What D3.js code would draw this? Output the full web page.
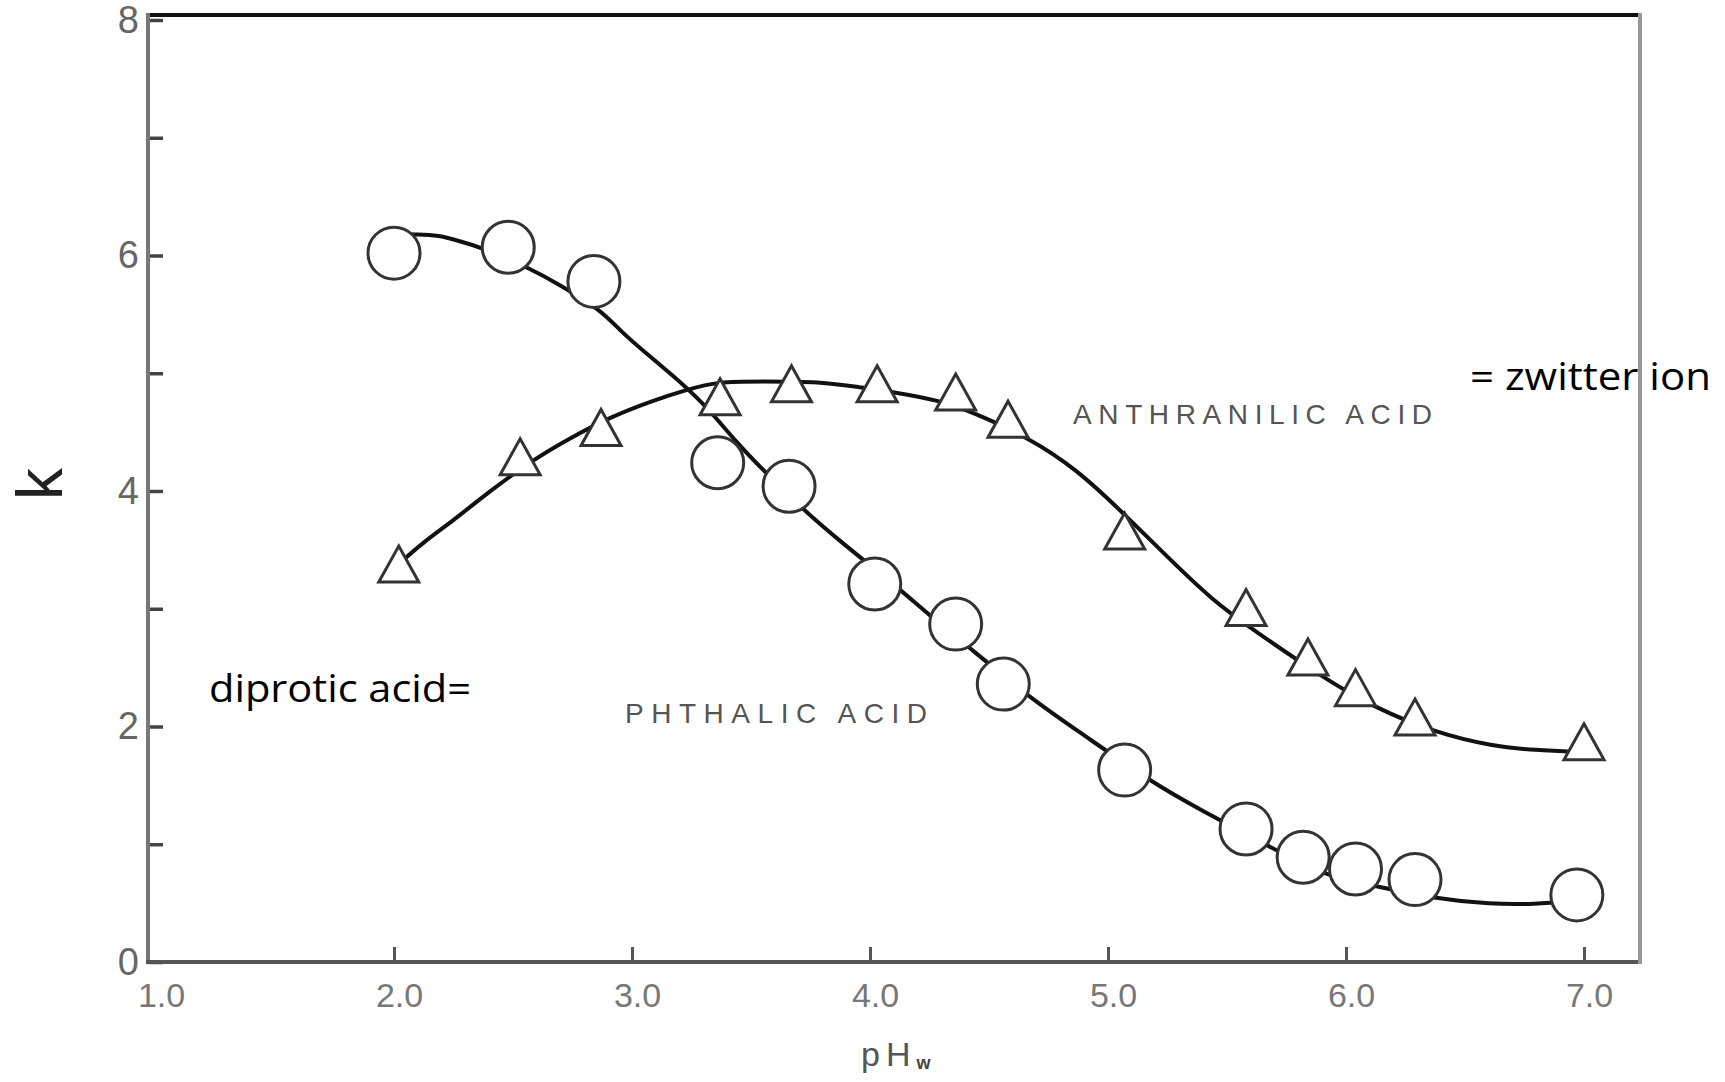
<!DOCTYPE html>
<html><head><meta charset="utf-8">
<script src="https://cdn.jsdelivr.net/npm/d3@7"></script>
<style>html,body{margin:0;padding:0;background:#fff;} svg{display:block;}</style>
</head><body>
<script>
// ---- data ----
const xTickValues = [1, 2, 3, 4, 5, 6, 7];
const xTickLabels = ["1.0", "2.0", "3.0", "4.0", "5.0", "6.0", "7.0"];
const yTickValues = [0, 1, 2, 3, 4, 5, 6, 7, 8];
const yTickLabels = ["0", "", "2", "", "4", "", "6", "", "8"];

// phthalic acid (circles)
const phthalicPH = [2.00, 2.48, 2.84, 3.36, 3.66, 4.02, 4.36, 4.56, 5.07, 5.58, 5.82, 6.04, 6.29, 6.97];
const phthalicK  = [6.02, 6.07, 5.78, 4.24, 4.04, 3.21, 2.87, 2.36, 1.63, 1.13, 0.89, 0.79, 0.70, 0.57];
// anthranilic acid (triangles)
const anthranilicPH = [2.02, 2.53, 2.87, 3.37, 3.67, 4.03, 4.36, 4.58, 5.07, 5.58, 5.84, 6.04, 6.29, 7.00];
const anthranilicK  = [3.38, 4.29, 4.54, 4.80, 4.91, 4.91, 4.84, 4.61, 3.66, 3.01, 2.59, 2.33, 2.08, 1.87];

// hand-drawn fitted curves
const phthalicFitPH = [2.00, 2.10, 2.19, 2.26, 2.37, 2.58, 2.68, 2.87, 2.96, 3.06, 3.16, 3.30, 3.44, 3.55, 3.72, 3.87, 4.13, 4.24, 4.43, 4.68, 4.89, 5.18, 5.39, 5.68, 5.92, 6.14, 6.37, 6.61, 6.79, 6.97];
const phthalicFitK  = [6.18, 6.18, 6.17, 6.13, 6.07, 5.88, 5.77, 5.54, 5.34, 5.17, 5.00, 4.75, 4.41, 4.18, 3.84, 3.58, 3.16, 2.96, 2.65, 2.23, 1.94, 1.53, 1.29, 0.98, 0.72, 0.64, 0.54, 0.49, 0.49, 0.52];
const anthranilicFitPH = [2.02, 2.12, 2.25, 2.39, 2.58, 2.74, 2.91, 3.09, 3.23, 3.36, 3.55, 3.79, 3.96, 4.10, 4.29, 4.43, 4.67, 4.87, 5.05, 5.25, 5.44, 5.61, 5.90, 6.11, 6.37, 6.62, 6.79, 7.00];
const anthranilicFitK  = [3.38, 3.56, 3.75, 3.98, 4.26, 4.45, 4.63, 4.77, 4.86, 4.93, 4.93, 4.93, 4.88, 4.84, 4.77, 4.67, 4.45, 4.18, 3.84, 3.44, 3.07, 2.82, 2.42, 2.17, 1.95, 1.83, 1.80, 1.78];

const seriesLabels = ["ANTHRANILIC ACID", "PHTHALIC ACID"];
const noteLabels = ["= zwitter ion", "diprotic acid="];
const yTitle = "k";
const xTitle = "pH";
const xTitleSub = "w";

// ---- layout ----
const W = 1725, H = 1082;
const frame = {left: 148, right: 1640, top: 15, bottom: 962};
const FONT = "'Liberation Sans', Arial, sans-serif";

const x = d3.scaleLinear().domain([1, 7]).range([156, 1584]);
const y = d3.scaleLinear().domain([0, 8]).range([962, 20]);

const svg = d3.select("body").append("svg").attr("width", W).attr("height", H);
svg.append("rect").attr("width", W).attr("height", H).attr("fill", "#fff");

// frame
const frameG = svg.append("g").attr("fill", "none").attr("stroke-linecap", "square");
frameG.append("line").attr("x1", frame.left).attr("x2", frame.right).attr("y1", frame.top).attr("y2", frame.top)
  .attr("stroke", "#111").attr("stroke-width", 4);
frameG.append("line").attr("x1", frame.left).attr("x2", frame.left).attr("y1", frame.top).attr("y2", frame.bottom)
  .attr("stroke", "#777").attr("stroke-width", 4);
frameG.append("line").attr("x1", frame.left).attr("x2", frame.right).attr("y1", frame.bottom).attr("y2", frame.bottom)
  .attr("stroke", "#555").attr("stroke-width", 4);
frameG.append("line").attr("x1", frame.right).attr("x2", frame.right).attr("y1", frame.top).attr("y2", frame.bottom)
  .attr("stroke", "#999").attr("stroke-width", 4);

// y axis
const yAxis = d3.axisLeft(y).tickValues(yTickValues)
  .tickFormat(d => yTickLabels[yTickValues.indexOf(d)])
  .tickSize(-15).tickPadding(9);
svg.append("g").attr("transform", `translate(${frame.left},0)`).call(yAxis)
  .call(g => g.select(".domain").remove())
  .call(g => g.selectAll(".tick line").attr("stroke", "#444").attr("stroke-width", 3.5))
  .call(g => g.selectAll(".tick text").attr("font-size", 38).attr("font-family", FONT).attr("fill", "#666"));

// x axis
const xAxis = d3.axisBottom(x).tickValues(xTickValues)
  .tickFormat(d => xTickLabels[xTickValues.indexOf(d)])
  .tickSize(-15).tickPadding(21);
svg.append("g").attr("transform", `translate(0,${frame.bottom})`).call(xAxis)
  .call(g => g.select(".domain").remove())
  .call(g => g.selectAll(".tick line").attr("stroke", "#555").attr("stroke-width", 3)
    .attr("display", d => d === xTickValues[0] ? "none" : null))
  .call(g => g.selectAll(".tick text").attr("font-size", 34).attr("font-family", FONT).attr("fill", "#777").attr("dx", 5));

// curves
const line = d3.line().x(d => x(d[0])).y(d => y(d[1])).curve(d3.curveBasis);
const pFit = phthalicFitPH.map((v, i) => [v, phthalicFitK[i]]);
const aFit = anthranilicFitPH.map((v, i) => [v, anthranilicFitK[i]]);
svg.append("path").attr("d", line(pFit)).attr("fill", "none").attr("stroke", "#111").attr("stroke-width", 4);
svg.append("path").attr("d", line(aFit)).attr("fill", "none").attr("stroke", "#111").attr("stroke-width", 4);

// markers
const pPts = phthalicPH.map((v, i) => [v, phthalicK[i]]);
const aPts = anthranilicPH.map((v, i) => [v, anthranilicK[i]]);
svg.append("g").selectAll("circle").data(pPts).join("circle")
  .attr("cx", d => x(d[0])).attr("cy", d => y(d[1])).attr("r", 26)
  .attr("fill", "#fff").attr("stroke", "#333").attr("stroke-width", 3);
const ts = 40, th = 36;
const triPath = `M0,${-th / 2}L${ts / 2},${th / 2}L${-ts / 2},${th / 2}Z`;
svg.append("g").selectAll("path").data(aPts).join("path")
  .attr("transform", d => `translate(${x(d[0])},${y(d[1])})`).attr("d", triPath)
  .attr("fill", "#fff").attr("stroke", "#333").attr("stroke-width", 3).attr("stroke-linejoin", "miter");

// series labels (scan style)
svg.append("text").attr("x", 1073).attr("y", 424).text(seriesLabels[0])
  .attr("font-family", FONT).attr("font-size", 28).attr("fill", "#555")
  .attr("textLength", 359).attr("lengthAdjust", "spacing");
svg.append("text").attr("x", 625).attr("y", 723).text(seriesLabels[1])
  .attr("font-family", FONT).attr("font-size", 28).attr("fill", "#555")
  .attr("textLength", 302).attr("lengthAdjust", "spacing");

// overlay notes
svg.append("text").attr("x", 1470).attr("y", 390).text(noteLabels[0])
  .attr("font-family", "'Open Sans', 'Noto Sans', sans-serif").attr("font-size", 38).attr("fill", "#000")
  .attr("textLength", 241).attr("lengthAdjust", "spacingAndGlyphs");
svg.append("text").attr("x", 209).attr("y", 702).text(noteLabels[1])
  .attr("font-family", "'Open Sans', 'Noto Sans', sans-serif").attr("font-size", 38).attr("fill", "#000")
  .attr("textLength", 262).attr("lengthAdjust", "spacingAndGlyphs");

// frame right edge over the note (as in scan)
frameG.raise();

// axis titles
svg.append("text").attr("transform", `translate(62,484) rotate(-90)`).attr("text-anchor", "middle")
  .attr("font-family", FONT).attr("font-size", 64).attr("fill", "#222").text(yTitle);
const xt = svg.append("text").attr("x", 861).attr("y", 1066)
  .attr("font-family", FONT).attr("font-size", 34).attr("fill", "#555").attr("letter-spacing", 6);
xt.append("tspan").text(xTitle);
xt.append("tspan").attr("font-size", 18).attr("dy", 3).attr("font-weight", "bold").attr("fill", "#444").text(xTitleSub);
</script>
</body></html>
